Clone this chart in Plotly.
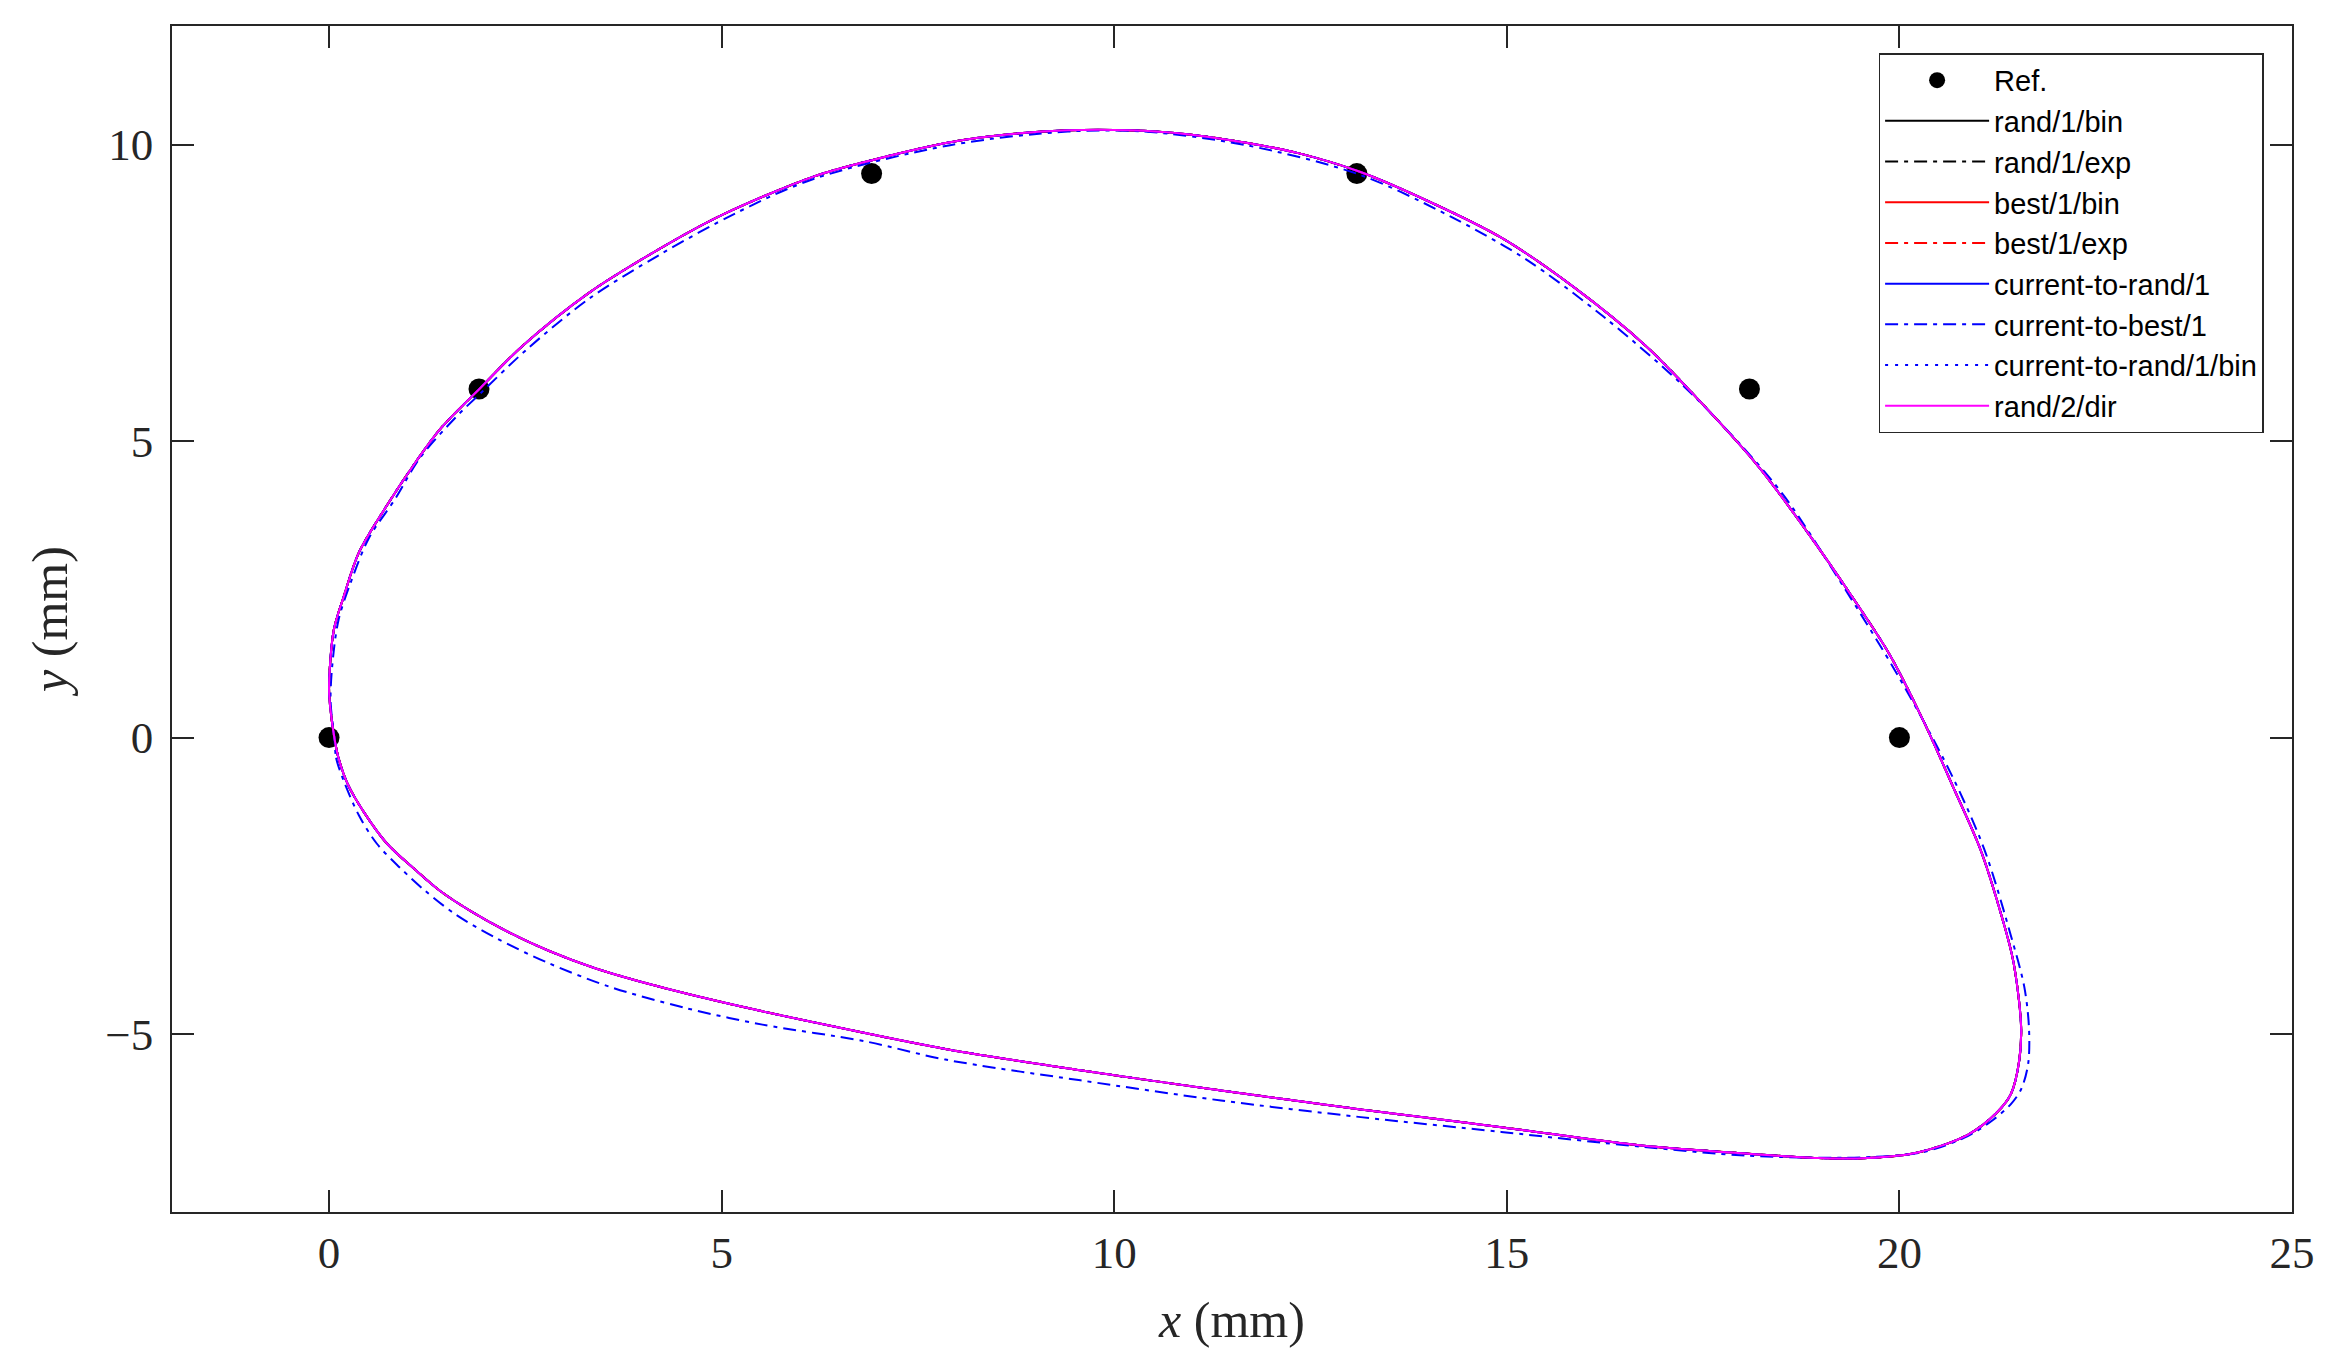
import plotly.graph_objects as go

# reference (precision) points
ref_x = [0.0, 1.910, 6.910, 13.090, 18.090, 20.0]
ref_y = [0.0, 5.878, 9.511, 9.511, 5.878, 0.0]

# coupler curve shared by the converged variants
curve_x = [0.07, 0.12, 0.24, 0.45, 0.74, 1.10, 1.42, 1.81, 2.27, 2.79, 3.37, 4.09,
           5.00, 6.17, 7.85, 9.57, 11.36, 13.14, 14.93, 16.72, 17.90, 18.96, 19.59,
           20.22, 20.87, 21.25, 21.42, 21.52, 21.55, 21.45, 21.28, 21.03, 20.69,
           20.31, 19.88, 19.37, 18.83, 18.20, 17.44, 16.75, 15.84, 14.93, 13.96,
           13.11, 12.33, 11.68, 10.90, 10.19, 9.41, 8.63, 7.91, 6.95, 6.17, 5.00,
           4.22, 3.31, 2.46, 1.93, 1.42, 1.10, 0.71, 0.38, 0.19, 0.06, 0.0, 0.02, 0.07]
curve_y = [-0.02, -0.34, -0.79, -1.27, -1.79, -2.23, -2.59, -2.93, -3.27, -3.59, -3.88,
           -4.16, -4.46, -4.80, -5.25, -5.61, -5.95, -6.27, -6.57, -6.88, -7.00, -7.09,
           -7.09, -7.00, -6.70, -6.31, -6.01, -5.50, -4.89, -3.77, -2.91, -1.88, -0.85,
           0.27, 1.39, 2.43, 3.46, 4.58, 5.70, 6.63, 7.61, 8.43, 9.07, 9.55, 9.86,
           10.03, 10.18, 10.24, 10.24, 10.17, 10.04, 9.75, 9.46, 8.81, 8.25, 7.50,
           6.60, 5.90, 5.21, 4.64, 3.86, 3.12, 2.39, 1.81, 0.83, 0.45, -0.02]

# current-to-best/1 curve, visibly off the others
best1_x = [0.07, 0.09, 0.19, 0.38, 0.61, 0.90, 1.23, 1.62, 2.14, 2.79, 3.57, 4.54,
           5.52, 6.82, 7.85, 9.57, 11.36, 13.14, 14.93, 16.72, 18.06, 19.50, 20.30,
           20.87, 21.20, 21.42, 21.55, 21.64, 21.65, 21.59, 21.42, 21.08, 20.65,
           19.98, 19.30, 18.54, 17.97, 17.21, 16.23, 15.25, 14.28, 13.11, 11.68,
           10.38, 9.41, 7.91, 6.17, 5.19, 4.22, 3.31, 2.53, 1.94, 1.62, 1.16, 0.84,
           0.51, 0.28, 0.12, 0.04, 0.02, 0.07]
best1_y = [-0.02, -0.34, -0.74, -1.31, -1.79, -2.19, -2.59, -2.99, -3.39, -3.80, -4.20,
           -4.56, -4.84, -5.12, -5.43, -5.78, -6.12, -6.40, -6.65, -6.90, -7.05, -7.08,
           -6.99, -6.72, -6.44, -6.18, -5.93, -5.50, -4.89, -4.20, -3.34, -1.88, -0.59,
           1.05, 2.52, 4.06, 4.95, 5.98, 7.10, 8.06, 8.79, 9.50, 9.99, 10.22, 10.22,
           9.99, 9.42, 8.85, 8.15, 7.40, 6.56, 5.82, 5.41, 4.72, 4.02, 3.37, 2.63,
           1.98, 1.20, 0.60, -0.02]

# name, colour, dash
series = [
    ('rand/1/bin', 'black', 'solid'),
    ('rand/1/exp', 'black', '13px,6px,4px,6px'),
    ('best/1/bin', 'red', 'solid'),
    ('best/1/exp', 'red', '13px,6px,4px,6px'),
    ('current-to-rand/1', 'blue', 'solid'),
    ('current-to-best/1', 'blue', '13px,6px,4px,6px'),
    ('current-to-rand/1/bin', 'blue', '3px,7px'),
    ('rand/2/dir', 'magenta', 'solid'),
]

fig = go.Figure()
fig.add_trace(go.Scatter(x=ref_x, y=ref_y, mode='markers', name='Ref.',
                         marker=dict(color='black', size=21)))
for name, color, dash in series:
    xs, ys = (best1_x, best1_y) if name == 'current-to-best/1' else (curve_x, curve_y)
    fig.add_trace(go.Scatter(x=xs, y=ys, mode='lines', name=name,
                             line=dict(color=color, dash=dash, width=2, shape='spline', smoothing=0.9)))

axis_style = dict(showline=True, linecolor='#262626', linewidth=1.5, mirror='ticks',
                  ticks='inside', ticklen=22, tickwidth=1.5, tickcolor='#262626',
                  showgrid=False, zeroline=False,
                  tickfont=dict(family='Liberation Serif', size=45, color='#262626'))
fig.update_xaxes(range=[-2, 25], tick0=0, dtick=5, ticklabelstandoff=0,
                 title=dict(text='<i>x</i> (mm)', standoff=25,
                            font=dict(family='Liberation Serif', size=50, color='#262626')),
                 **axis_style)
fig.update_yaxes(range=[-8, 12], tick0=0, dtick=5, ticklabelstandoff=8,
                 title=dict(text='<i>y</i> (mm)', standoff=22,
                            font=dict(family='Liberation Serif', size=50, color='#262626')),
                 **axis_style)
fig.update_layout(
    width=2346, height=1366,
    margin=dict(l=164, r=62, t=18, b=162),
    plot_bgcolor='white', paper_bgcolor='white',
    legend=dict(x=0.805, y=0.977, xanchor='left', yanchor='top',
                bgcolor='white', bordercolor='#262626', borderwidth=1.5,
                itemwidth=104, tracegroupgap=0,
                font=dict(family='Liberation Sans', size=29, color='black')),
)
fig.write_html("out.html")
